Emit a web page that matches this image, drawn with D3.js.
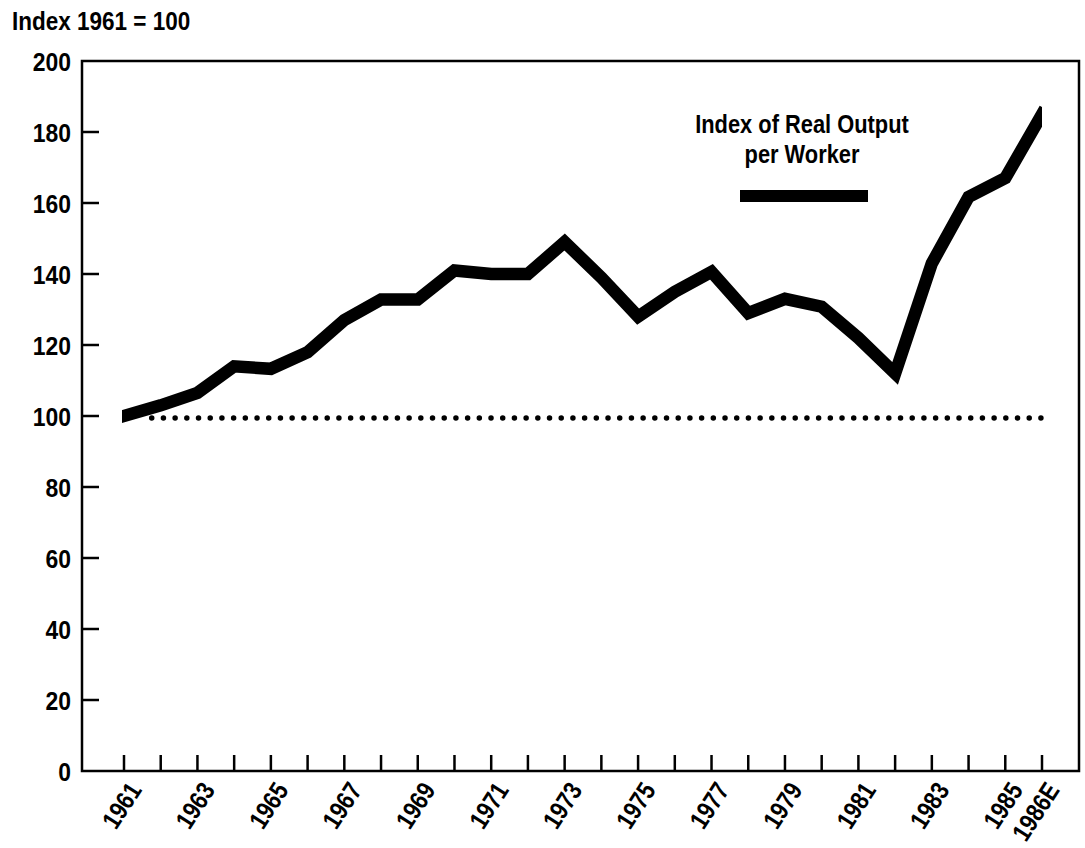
<!DOCTYPE html>
<html>
<head>
<meta charset="utf-8">
<script src="https://cdn.jsdelivr.net/npm/d3@7"></script>
<style>
  html, body { margin: 0; padding: 0; background: #fff; }
  svg text { font-family: "Liberation Sans", Arial, sans-serif; font-weight: bold; fill: #000; }
</style>
</head>
<body>
<svg id="chart" width="1085" height="848"></svg>
<script>
// ---- data ----
const years = ["1961","1962","1963","1964","1965","1966","1967","1968","1969","1970",
               "1971","1972","1973","1974","1975","1976","1977","1978","1979","1980",
               "1981","1982","1983","1984","1985","1986E"];
const outputIndex = [100, 103, 106.5, 114, 113.3, 118, 127, 132.8, 132.8, 141,
                     140, 140, 149, 139, 128, 135, 140.6, 129, 133, 130.8,
                     122, 112, 143, 161.7, 167, 185];
const xTickLabels = ["1961","1963","1965","1967","1969","1971","1973","1975","1977","1979","1981","1983","1985","1986E"];
const yTickValues = [0, 20, 40, 60, 80, 100, 120, 140, 160, 180, 200];
const baselineValue = 100;
const yTitle = "Index 1961 = 100";
const legendLines = ["Index of Real Output", "per Worker"];

// ---- helpers ----
function condense(sel, f) {
  sel.each(function () {
    const w = this.getComputedTextLength();
    this.setAttribute("textLength", (w * f).toFixed(1));
    this.setAttribute("lengthAdjust", "spacingAndGlyphs");
  });
}

// ---- layout ----
const svg = d3.select("#chart");
const M = { left: 82, right: 1079, top: 61, bottom: 771 };

const x = d3.scalePoint().domain(years).range([124, 1042]);
const y = d3.scaleLinear().domain([0, 200]).range([M.bottom, M.top]);

// frame
svg.append("rect")
  .attr("x", M.left).attr("y", M.top)
  .attr("width", M.right - M.left).attr("height", M.bottom - M.top)
  .attr("fill", "none").attr("stroke", "#000").attr("stroke-width", 2.5);

// y axis (ticks inward)
const yAxis = svg.append("g")
  .attr("transform", `translate(${M.left},0)`)
  .call(d3.axisLeft(y).tickValues(yTickValues).tickSize(0).tickPadding(11).tickFormat(d3.format("d")));
yAxis.select(".domain").remove();
yAxis.selectAll("text").style("font-size", "26px").attr("dy", "0.36em").call(condense, 0.88);
svg.append("g").selectAll("line")
  .data(yTickValues.filter(v => v > 0 && v < 200))
  .join("line")
  .attr("x1", M.left).attr("x2", M.left + 17)
  .attr("y1", d => y(d)).attr("y2", d => y(d))
  .attr("stroke", "#000").attr("stroke-width", 2.5);

// x axis ticks (upward)
svg.append("g").selectAll("line")
  .data(years)
  .join("line")
  .attr("x1", d => x(d)).attr("x2", d => x(d))
  .attr("y1", M.bottom).attr("y2", M.bottom - 16)
  .attr("stroke", "#000").attr("stroke-width", 2.5);

// x labels rotated
const xAxis = svg.append("g")
  .attr("transform", `translate(0,${M.bottom})`)
  .call(d3.axisBottom(x).tickValues(xTickLabels).tickSize(0));
xAxis.select(".domain").remove();
xAxis.selectAll("text")
  .style("font-size", "26px")
  .attr("text-anchor", "end")
  .attr("dy", null).attr("y", 0)
  .attr("transform", "translate(18,19) rotate(-57)")
  .call(condense, 0.84);

// y title
svg.append("text")
  .attr("x", 12).attr("y", 30)
  .style("font-size", "25px")
  .text(yTitle)
  .call(condense, 0.9);

// dotted baseline at 100
const dotStart = x(years[1]) - 9;
const dotEnd = x(years[years.length - 1]);
svg.append("line")
  .attr("x1", dotStart).attr("x2", dotEnd)
  .attr("y1", y(baselineValue) + 2).attr("y2", y(baselineValue) + 2)
  .attr("stroke", "#000").attr("stroke-width", 5.5)
  .attr("stroke-linecap", "round")
  .attr("stroke-dasharray", "0,11.7");

// clip so the line ends are cut vertically at first/last year
svg.append("clipPath").attr("id", "lineClip")
  .append("rect")
  .attr("x", x(years[0]) - 2).attr("y", M.top)
  .attr("width", x(years[years.length - 1]) - x(years[0]) + 2)
  .attr("height", M.bottom - M.top);

// the series line
const line = d3.line().x((d, i) => x(years[i])).y(d => y(d));
svg.append("path")
  .datum(outputIndex)
  .attr("d", line)
  .attr("clip-path", "url(#lineClip)")
  .attr("fill", "none")
  .attr("stroke", "#000")
  .attr("stroke-width", 12.5)
  .attr("stroke-linejoin", "miter")
  .attr("stroke-miterlimit", 3)
  .attr("stroke-linecap", "square");

// legend
const legendCx = 802;
svg.append("g").selectAll("text")
  .data(legendLines)
  .join("text")
  .attr("x", legendCx)
  .attr("y", (d, i) => 133 + i * 30)
  .attr("text-anchor", "middle")
  .style("font-size", "26px")
  .text(d => d)
  .call(condense, 0.84);
svg.append("line")
  .attr("x1", 740).attr("x2", 868)
  .attr("y1", 196).attr("y2", 196)
  .attr("stroke", "#000").attr("stroke-width", 12);
</script>
</body>
</html>
